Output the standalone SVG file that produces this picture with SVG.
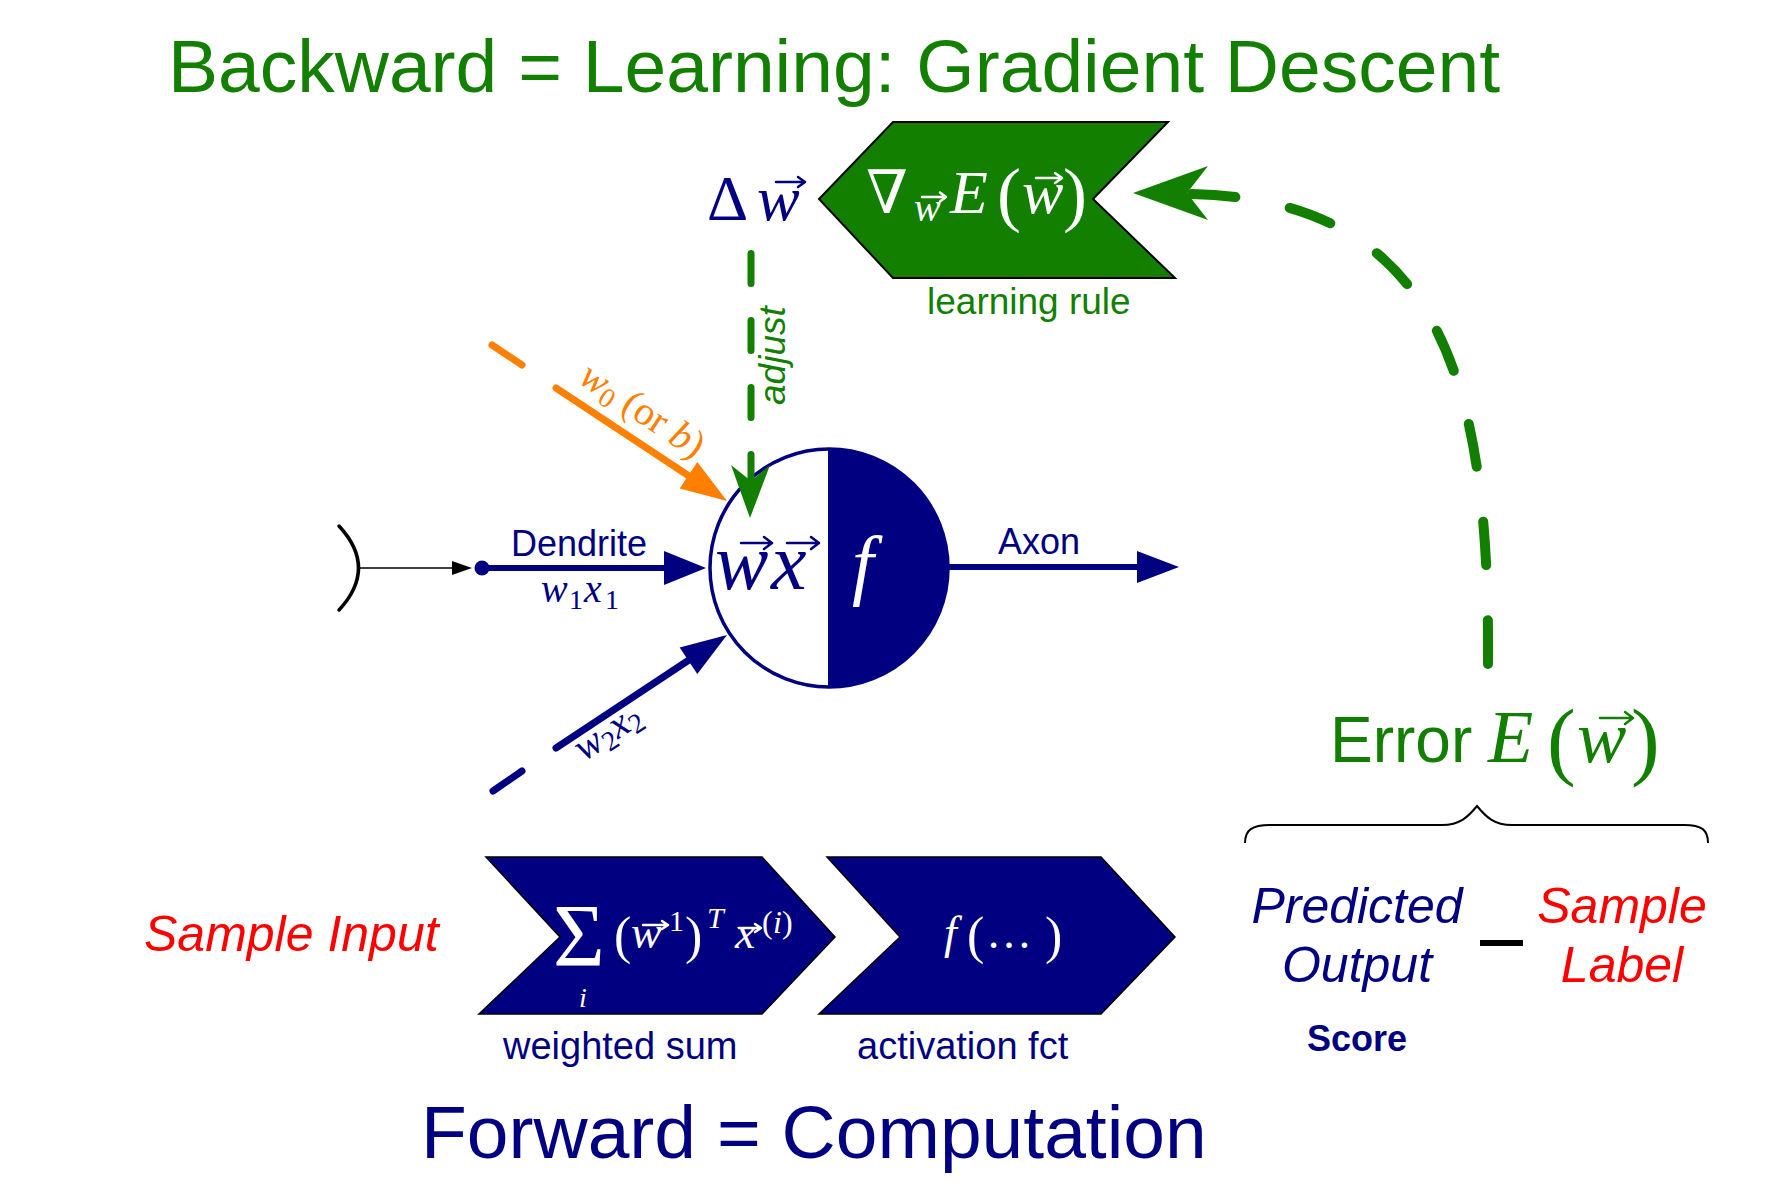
<svg xmlns="http://www.w3.org/2000/svg" width="1773" height="1183" viewBox="0 0 1773 1183">
<style>
.sans{font-family:"Liberation Sans",Arial,Helvetica,sans-serif}
.serif{font-family:"Liberation Serif","Times New Roman","DejaVu Serif",serif}
.it{font-style:italic}
.navy{fill:#000080}
.green{fill:#127f00}
.red{fill:#ff0000}
.orange{fill:#ff8000}
.white{fill:#ffffff}
.vecN{fill:none;stroke:#000080;stroke-width:2.5;stroke-linecap:round;stroke-linejoin:round}
.vecW{fill:none;stroke:#ffffff;stroke-width:2.5;stroke-linecap:round;stroke-linejoin:round}
.vecG{fill:none;stroke:#127f00;stroke-width:2.5;stroke-linecap:round;stroke-linejoin:round}
.chevN{fill:#000080;stroke:#000000;stroke-width:1.5}
.chevG{fill:#127f00;stroke:#000000;stroke-width:2}
</style>
<rect width="1773" height="1183" fill="#ffffff"/>

<!-- Titles -->
<g id="title-backward">
<text class="sans green" x="168" y="92" font-size="75">Backward = Learning: Gradient Descent</text>
</g>
<g id="title-forward">
<text class="sans navy" x="421" y="1158" font-size="75">Forward = Computation</text>
</g>

<!-- Learning rule chevron -->
<g id="learning-rule">
<polygon class="chevG" points="893,122 1168,122 1093,199 1175,278 893,278 819,199"/>
<text class="serif white" font-size="62"><tspan x="866" y="213" font-size="60">∇</tspan><tspan class="it" x="914" y="221" font-size="40">w</tspan><tspan class="it" x="950" y="213">E</tspan><tspan x="997" y="218" font-size="72">(</tspan><tspan class="it" x="1022" y="213">w</tspan><tspan x="1063" y="218" font-size="72">)</tspan></text>
<path class="vecW" d="M922 197 H946 M940 192.5 L946 197 L940 201.5"/>
<path class="vecW" d="M1036 178 H1062 M1055 173 L1062 178 L1055 183"/>
<text class="sans green" x="927" y="314" font-size="37">learning rule</text>
</g>

<!-- Delta w -->
<g id="delta-w">
<text class="serif navy" font-size="64"><tspan x="707" y="220">Δ</tspan><tspan class="it" x="757" y="220">w</tspan></text>
<path class="vecN" d="M776 182 H805 M798 177 L805 182 L798 187"/>
</g>

<!-- Neuron -->
<g id="neuron">
<circle cx="829" cy="568" r="119" fill="#ffffff" stroke="#000080" stroke-width="3.5"/>
<path d="M829 449 A119 119 0 0 1 829 687 Z" fill="#000080"/>
<line x1="829" y1="449" x2="829" y2="687" stroke="#000080" stroke-width="2"/>
<text class="serif navy it" font-size="80"><tspan x="715" y="589">w</tspan><tspan x="771" y="589">x</tspan></text>
<path class="vecN" d="M741 543 H772 M764 537 L772 543 L764 549"/>
<path class="vecN" d="M787 543 H819 M811 537 L819 543 L811 549"/>
<text class="serif white it" x="852" y="590" font-size="78">f</text>
</g>

<!-- Input synapse -->
<g id="input-synapse">
<path d="M339 526 Q378 568 339 610" fill="none" stroke="#000000" stroke-width="3.5" stroke-linecap="round"/>
</g>

<!-- Connectors -->
<g id="connectors">
<line x1="357" y1="568" x2="455" y2="568" stroke="#000000" stroke-width="1.5"/>
<polygon points="472,568 452,561 452,575" fill="#000000"/>
<circle cx="482" cy="568" r="7.5" fill="#000080"/>
<line x1="482" y1="568" x2="668" y2="568" stroke="#000080" stroke-width="6"/>
<polygon points="706,568 664,551 664,585" fill="#000080"/>
<line x1="492" y1="345" x2="522" y2="365" stroke="#ff8000" stroke-width="7" stroke-linecap="round"/>
<line x1="556" y1="388" x2="692" y2="478" stroke="#ff8000" stroke-width="7" stroke-linecap="round"/>
<polygon points="727,501 697.3,461.9 679.7,488.5" fill="#ff8000"/>
<line x1="493" y1="791" x2="522" y2="771" stroke="#000080" stroke-width="7" stroke-linecap="round"/>
<line x1="556" y1="748" x2="692" y2="658" stroke="#000080" stroke-width="7" stroke-linecap="round"/>
<polygon points="727,635 697.3,674.1 679.7,647.5" fill="#000080"/>
<line x1="947" y1="567" x2="1140" y2="567" stroke="#000080" stroke-width="6"/>
<polygon points="1179,567 1137,551 1137,583" fill="#000080"/>
<line x1="751" y1="253.5" x2="751" y2="480" stroke="#127f00" stroke-width="7" stroke-linecap="round" stroke-dasharray="30 37"/>
<polygon points="750,518 731,465 751,481 770,465" fill="#127f00"/>
<path d="M1192 194 C1440 200 1490 380 1488 664" fill="none" stroke="#127f00" stroke-width="10" stroke-linecap="round" stroke-dasharray="44 56" pathLength="644"/>
<polygon points="1133,193 1208,166 1187,193 1208,220" fill="#127f00"/>
</g>

<!-- Connector labels -->
<g id="label-dendrite">
<text class="sans navy" x="511" y="556" font-size="36">Dendrite</text>
<text class="serif navy" font-size="40"><tspan class="it" x="541" y="602">w</tspan><tspan x="569" y="609" font-size="28">1</tspan><tspan class="it" x="584" y="602">x</tspan><tspan x="605" y="609" font-size="28">1</tspan></text>
</g>
<g id="label-bias" transform="translate(577,382) rotate(33.5)">
<text class="serif orange" font-size="40"><tspan class="it">w</tspan><tspan font-size="28" dy="6">0</tspan><tspan dy="-6"> (or </tspan><tspan class="it">b</tspan>)</text>
</g>
<g id="label-w2x2" transform="translate(584,762) rotate(-33.5)">
<text class="serif navy" font-size="40"><tspan class="it">w</tspan><tspan font-size="28" dy="6">2</tspan><tspan class="it" dy="-6">x</tspan><tspan font-size="28" dy="6">2</tspan></text>
</g>
<g id="label-axon">
<text class="sans navy" x="998" y="554" font-size="36">Axon</text>
</g>
<g id="label-adjust" transform="translate(785,405) rotate(-90)">
<text class="sans green it" font-size="37">adjust</text>
</g>

<!-- Sample input -->
<g id="sample-input">
<text class="sans red it" x="144" y="951" font-size="50">Sample Input</text>
</g>

<!-- Weighted sum chevron -->
<g id="weighted-sum">
<polygon class="chevN" points="486,857 762,857 835,937 762,1014 479,1014 560,937"/>
<text class="serif white" font-size="46"><tspan x="553" y="965" font-size="89">Σ</tspan><tspan class="it" x="579" y="1007" font-size="28">i</tspan><tspan x="614" y="953" font-size="52">(</tspan><tspan class="it" x="631" y="948">w</tspan><tspan x="669" y="931" font-size="30">1</tspan><tspan x="685" y="953" font-size="52">)</tspan><tspan class="it" x="707" y="928" font-size="30">T</tspan><tspan class="it" x="735" y="948">x</tspan><tspan x="762" y="933" font-size="32">(</tspan><tspan class="it" x="773" y="933" font-size="32">i</tspan><tspan x="782" y="933" font-size="32">)</tspan></text>
<path class="vecW" d="M643 925 H668 M662 921 L668 925 L662 929"/>
<path class="vecW" d="M739 928 H761 M755 924 L761 928 L755 932"/>
<text class="sans navy" x="503" y="1059" font-size="38">weighted sum</text>
</g>

<!-- Activation chevron -->
<g id="activation">
<polygon class="chevN" points="827,857 1101,857 1175,937 1101,1014 819,1014 900,937"/>
<text class="serif white" font-size="46"><tspan class="it" x="944" y="948">f</tspan><tspan x="967" y="953" font-size="52">(</tspan><tspan x="986" y="948">…</tspan><tspan x="1045" y="953" font-size="52">)</tspan></text>
<text class="sans navy" x="857" y="1059" font-size="38">activation fct</text>
</g>

<!-- Error -->
<g id="error">
<text class="green" font-size="74"><tspan class="sans" x="1330" y="762" font-size="64">Error</tspan><tspan class="serif it" x="1488" y="762">E</tspan><tspan class="serif" x="1547" y="769" font-size="86">(</tspan><tspan class="serif it" x="1577" y="762">w</tspan><tspan class="serif" x="1631" y="769" font-size="86">)</tspan></text>
<path class="vecG" d="M1600 718 H1633 M1625 712 L1633 718 L1625 724"/>
<path d="M1245 843 C1245 830 1252 825 1270 825 L1442 825 C1460 825 1468 817 1477 806 C1486 817 1494 825 1512 825 L1684 825 C1702 825 1708 830 1708 843" fill="none" stroke="#000000" stroke-width="2"/>
</g>

<!-- Predicted output - sample label -->
<g id="predicted-output">
<text class="sans navy it" x="1357" y="923" font-size="50" text-anchor="middle">Predicted</text>
<text class="sans navy it" x="1357" y="982" font-size="50" text-anchor="middle">Output</text>
<text class="sans navy" x="1357" y="1051" font-size="36" font-weight="bold" text-anchor="middle">Score</text>
</g>
<g id="minus">
<rect x="1480" y="940" width="43" height="6" fill="#000000"/>
</g>
<g id="sample-label">
<text class="sans red it" x="1622" y="923" font-size="50" text-anchor="middle">Sample</text>
<text class="sans red it" x="1622" y="982" font-size="50" text-anchor="middle">Label</text>
</g>
</svg>
